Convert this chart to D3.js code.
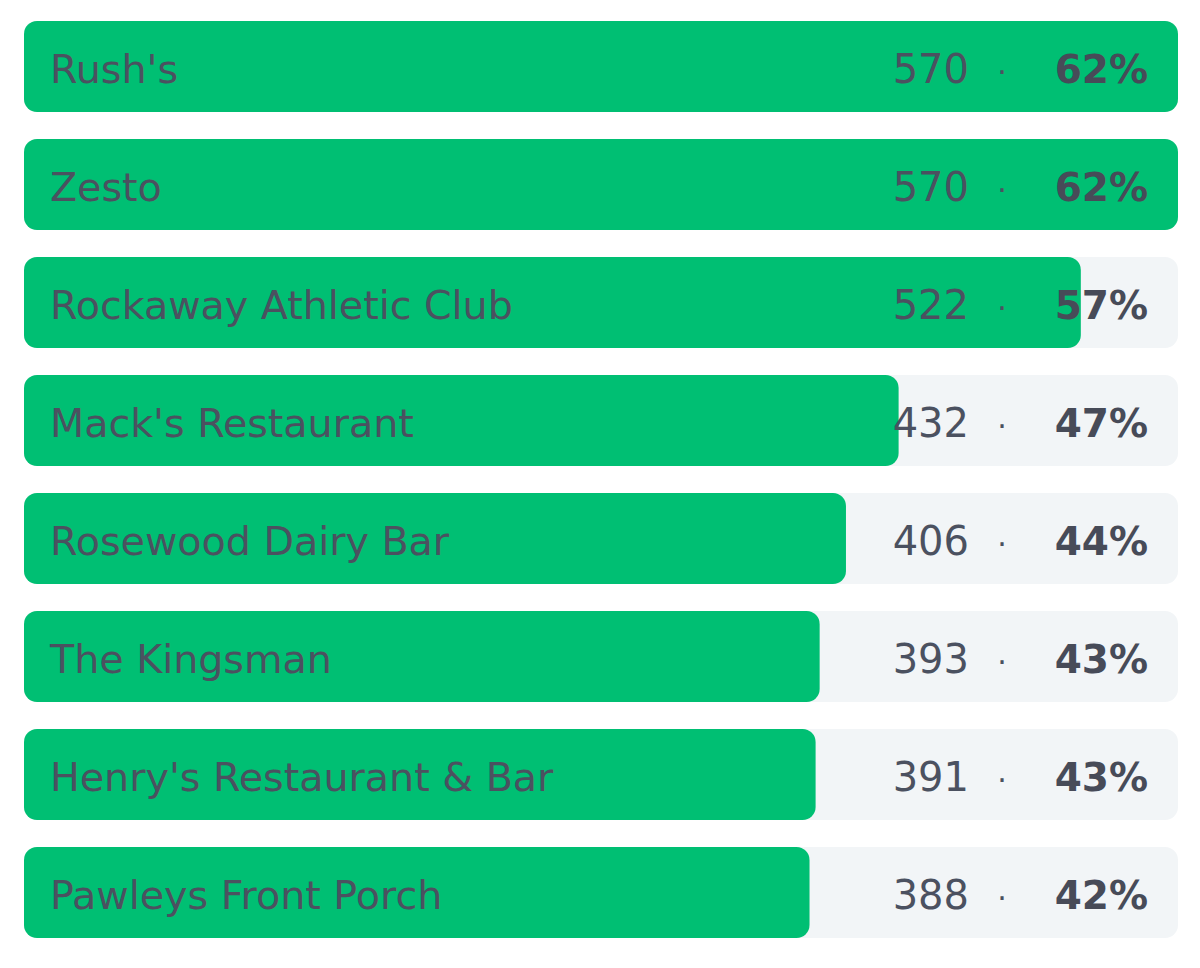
<!DOCTYPE html>
<html><head><meta charset="utf-8">
<script src="https://cdn.jsdelivr.net/npm/d3@7"></script>
<style>html,body{margin:0;padding:0;background:#fff;}</style>
</head><body>
<svg id="chart" width="1200" height="968"></svg>
<script>
const categories = ["Rush's","Zesto","Rockaway Athletic Club","Mack's Restaurant","Rosewood Dairy Bar","The Kingsman","Henry's Restaurant & Bar","Pawleys Front Porch"];
const counts = [570,570,522,432,406,393,391,388];
const percents = [62,62,57,47,44,43,43,42];

const svg = d3.select("#chart");
const left = 24, right = 1178;
const x = d3.scaleLinear().domain([0, d3.max(counts)]).range([0, right-left]);
const y = d3.scaleBand().domain(categories).range([21, 21 + 118*8 - 27]).paddingInner(27/118).paddingOuter(0);
const font = "'DejaVu Sans', sans-serif";
const textColor = "#4b5160";

const rows = svg.selectAll("g.row").data(categories).join("g").attr("class","row")
  .attr("transform", d => `translate(0,${y(d)})`);
const bh = y.bandwidth();
const ty = bh/2 + 16;
rows.append("rect").attr("x", left).attr("y",0).attr("width", right-left).attr("height", bh)
  .attr("rx", 13).attr("fill", "#f2f5f7");
rows.append("rect").attr("x", left).attr("y",0).attr("width", (d,i)=>x(counts[i])).attr("height", bh)
  .attr("rx", 13).attr("fill", "#00bf73");
rows.append("text").attr("x", 50).attr("y", ty).text(d=>d)
  .attr("font-family", font).attr("font-size", 39.6).attr("fill", textColor);
rows.append("text").attr("x", 969).attr("y", ty).attr("text-anchor","end")
  .text((d,i)=>counts[i]).attr("font-family", font).attr("font-size", 40).attr("fill", textColor);
rows.append("text").attr("x", 1002).attr("y", ty).attr("text-anchor","middle")
  .text("·").attr("font-family", font).attr("font-size", 30).attr("fill", textColor);
rows.append("text").attr("x", 1148).attr("y", ty).attr("text-anchor","end")
  .text((d,i)=>percents[i]+"%").attr("font-family", font).attr("font-size", 39)
  .attr("font-weight", 700).attr("fill", "#474b58");
</script>
</body></html>
